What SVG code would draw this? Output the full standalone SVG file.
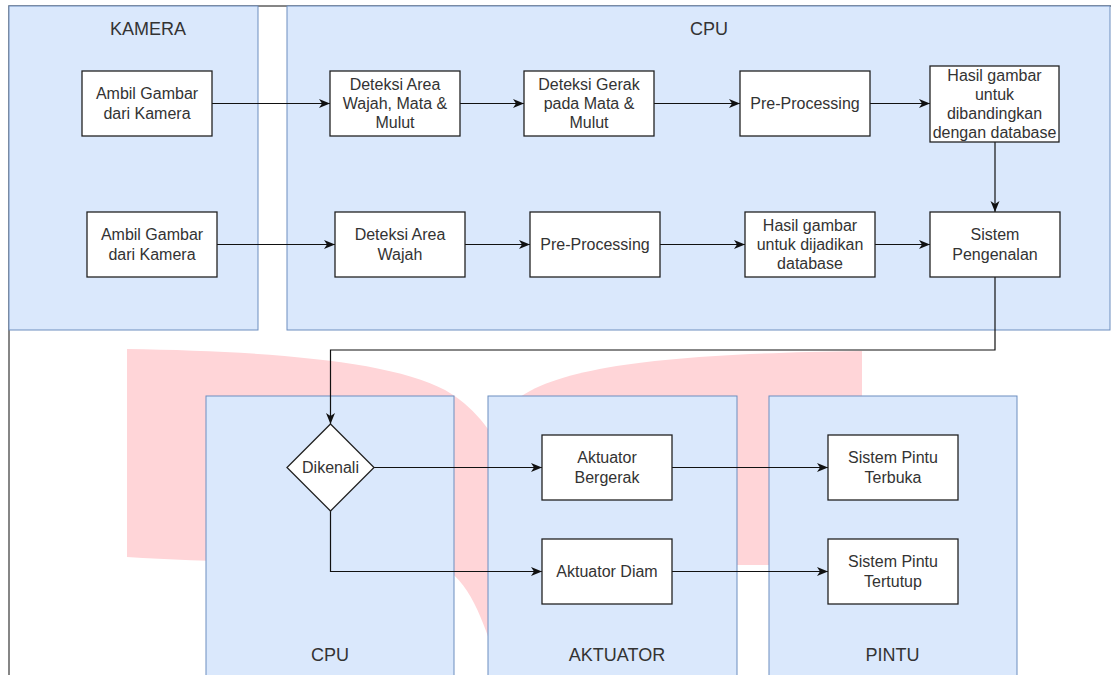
<svg xmlns="http://www.w3.org/2000/svg" width="1111" height="675" viewBox="0 0 1111 675">
<defs>
<style>
.lane{fill:#dae8fc;stroke:#6c8ebf;stroke-width:1}
.box{fill:#ffffff;stroke:#222222;stroke-width:1.3}
.t{font-family:"Liberation Sans",Arial,Helvetica,sans-serif;font-size:16px;fill:#333333;text-anchor:middle}
.lt{font-family:"Liberation Sans",Arial,Helvetica,sans-serif;font-size:18px;fill:#333333;text-anchor:middle}
.c{fill:none;stroke:#111111;stroke-width:1.2}
</style>
<marker id="arr" markerUnits="userSpaceOnUse" markerWidth="12" markerHeight="10" viewBox="0 0 12 10" refX="11" refY="5" orient="auto">
<path d="M0,0.5 L11,5 L0,9.5 L3,5 Z" fill="#111111"/>
</marker>
</defs>
<rect x="0" y="0" width="1111" height="675" fill="#ffffff"/>
<g id="watermark" fill="#ffd5d8">
<path d="M127,349 C260,351 390,360 445,390 C490,415 520,470 540,560 L540,675 L500,675 C490,640 475,590 450,572 C400,562 250,565 127,557 Z"/>
<path d="M505,410 C540,370 640,354 862,351 L862,565 L505,565 Z"/>
</g>
<g id="frame" fill="none" stroke="#5f5f5f" stroke-width="1.5">
<path d="M9,675 L9,6 L1111,6"/>
</g>
<g id="lane-kamera">
<rect class="lane" x="9" y="6" width="249" height="324"/>
<text class="lt" x="148" y="34.5">KAMERA</text>
</g>
<g id="lane-cpu-top">
<rect class="lane" x="287" y="6" width="823" height="324"/>
<text class="lt" x="709" y="34.5">CPU</text>
</g>
<g id="lane-cpu-bottom">
<rect class="lane" x="206" y="396" width="248" height="290"/>
<text class="lt" x="330" y="660.5">CPU</text>
</g>
<g id="lane-aktuator">
<rect class="lane" x="488" y="396" width="249" height="290"/>
<text class="lt" x="617" y="660.5">AKTUATOR</text>
</g>
<g id="lane-pintu">
<rect class="lane" x="769" y="396" width="248" height="290"/>
<text class="lt" x="892.5" y="660.5">PINTU</text>
</g>
<g id="connectors">
<path class="c" d="M212,103.5 L330,103.5" marker-end="url(#arr)"/>
<path class="c" d="M460,103.5 L524,103.5" marker-end="url(#arr)"/>
<path class="c" d="M654,103.5 L740,103.5" marker-end="url(#arr)"/>
<path class="c" d="M870,103.5 L930,103.5" marker-end="url(#arr)"/>
<path class="c" d="M217,244.5 L335,244.5" marker-end="url(#arr)"/>
<path class="c" d="M465,244.5 L530,244.5" marker-end="url(#arr)"/>
<path class="c" d="M660,244.5 L745,244.5" marker-end="url(#arr)"/>
<path class="c" d="M875,244.5 L930,244.5" marker-end="url(#arr)"/>
<path class="c" d="M995,142 L995,212" marker-end="url(#arr)"/>
<path class="c" d="M995,277 L995,350 L330.5,350 L330.5,424" marker-end="url(#arr)"/>
<path class="c" d="M374,467.5 L542,467.5" marker-end="url(#arr)"/>
<path class="c" d="M330.5,511 L330.5,571.5 L542,571.5" marker-end="url(#arr)"/>
<path class="c" d="M672,467.5 L828,467.5" marker-end="url(#arr)"/>
<path class="c" d="M672,571.5 L828,571.5" marker-end="url(#arr)"/>
</g>
<g id="ambil1">
<rect class="box" x="82" y="71" width="130" height="65"/>
<text class="t" x="147" y="99.4">Ambil Gambar</text>
<text class="t" x="147" y="118.6">dari Kamera</text>
</g>
<g id="deteksi1">
<rect class="box" x="330" y="71" width="130" height="65"/>
<text class="t" x="395" y="89.8">Deteksi Area</text>
<text class="t" x="395" y="109">Wajah, Mata &amp;</text>
<text class="t" x="395" y="128.2">Mulut</text>
</g>
<g id="gerak">
<rect class="box" x="524" y="71" width="130" height="65"/>
<text class="t" x="589" y="89.8">Deteksi Gerak</text>
<text class="t" x="589" y="109">pada Mata &amp;</text>
<text class="t" x="589" y="128.2">Mulut</text>
</g>
<g id="pre1">
<rect class="box" x="740" y="71" width="130" height="65"/>
<text class="t" x="805" y="109">Pre-Processing</text>
</g>
<g id="hasil1">
<rect class="box" x="930" y="66" width="129" height="76"/>
<text class="t" x="994.5" y="80.7">Hasil gambar</text>
<text class="t" x="994.5" y="99.9">untuk</text>
<text class="t" x="994.5" y="119.1">dibandingkan</text>
<text class="t" x="994.5" y="138.3">dengan database</text>
</g>
<g id="ambil2">
<rect class="box" x="87" y="212" width="130" height="65"/>
<text class="t" x="152" y="240.4">Ambil Gambar</text>
<text class="t" x="152" y="259.6">dari Kamera</text>
</g>
<g id="deteksi2">
<rect class="box" x="335" y="212" width="130" height="65"/>
<text class="t" x="400" y="240.4">Deteksi Area</text>
<text class="t" x="400" y="259.6">Wajah</text>
</g>
<g id="pre2">
<rect class="box" x="530" y="212" width="130" height="65"/>
<text class="t" x="595" y="250">Pre-Processing</text>
</g>
<g id="hasil2">
<rect class="box" x="745" y="212" width="130" height="65"/>
<text class="t" x="810" y="230.8">Hasil gambar</text>
<text class="t" x="810" y="250">untuk dijadikan</text>
<text class="t" x="810" y="269.2">database</text>
</g>
<g id="sistem">
<rect class="box" x="930" y="212" width="130" height="65"/>
<text class="t" x="995" y="240.4">Sistem</text>
<text class="t" x="995" y="259.6">Pengenalan</text>
</g>
<g id="dikenali">
<path class="box" d="M330.5,424 L374,467.5 L330.5,511 L287,467.5 Z"/>
<text class="t" x="330.5" y="473">Dikenali</text>
</g>
<g id="bergerak">
<rect class="box" x="542" y="435" width="130" height="65"/>
<text class="t" x="607" y="463.4">Aktuator</text>
<text class="t" x="607" y="482.6">Bergerak</text>
</g>
<g id="diam">
<rect class="box" x="542" y="539" width="130" height="65"/>
<text class="t" x="607" y="577">Aktuator Diam</text>
</g>
<g id="terbuka">
<rect class="box" x="828" y="435" width="130" height="65"/>
<text class="t" x="893" y="463.4">Sistem Pintu</text>
<text class="t" x="893" y="482.6">Terbuka</text>
</g>
<g id="tertutup">
<rect class="box" x="828" y="539" width="130" height="65"/>
<text class="t" x="893" y="567.4">Sistem Pintu</text>
<text class="t" x="893" y="586.6">Tertutup</text>
</g>
</svg>
